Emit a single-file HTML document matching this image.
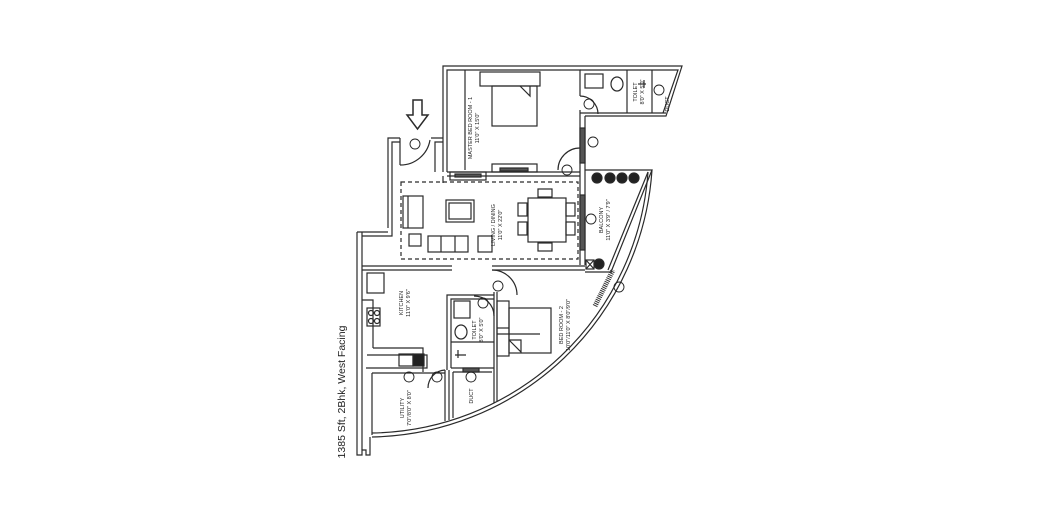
<!DOCTYPE html>
<html><head><meta charset="utf-8"><style>
html,body{margin:0;padding:0;background:#fff;}
svg{display:block;}
text{font-family:"Liberation Sans",sans-serif;fill:#222;}
</style></head><body>
<svg width="1044" height="510" viewBox="0 0 1044 510" xmlns="http://www.w3.org/2000/svg">
<g fill="none" stroke="#2a2a2a" stroke-width="1.2">
<path d="M443 172 V66 H682 L666 116 H585"/>
<path d="M447 172 V70 H580 V96"/>
<line x1="465" y1="70" x2="465" y2="170"/>
<path d="M580 70 H678 L663 113"/>
<line x1="627" y1="70" x2="627" y2="113"/>
<line x1="652" y1="70" x2="652" y2="113"/>
<line x1="580" y1="113" x2="666" y2="113"/>
<rect x="585" y="74" width="18" height="14"/>
<ellipse cx="617" cy="84" rx="6" ry="7"/>
<line x1="638" y1="84" x2="646" y2="84"/><line x1="644" y1="80" x2="644" y2="88"/>
<path d="M580 110 V265"/><path d="M585 116 V265"/>
<rect x="580" y="128" width="5" height="35" fill="#555"/>
<rect x="580" y="195" width="5" height="55" fill="#555"/>
<path d="M580 96 A18 18 0 0 1 598 114"/>
<path d="M580 148 A22 22 0 0 0 558 170"/>
<path d="M447 172 H580"/><path d="M443 176 V183 M486 176 H580 M447 176 H486"/>
<rect x="450" y="172" width="36" height="8"/>
<rect x="455" y="174" width="26" height="3" fill="#555"/>
<rect x="480" y="72" width="60" height="14"/>
<rect x="492" y="86" width="45" height="40"/>
<path d="M520 86 L530 96 V86"/>
<rect x="492" y="164" width="45" height="8"/>
<rect x="500" y="168" width="28" height="3" fill="#555"/>
<path d="M388 228 V138 H400 M431 138 H443 M443 142 H435 V172"/>
<path d="M392 228 V142 H400"/>
<line x1="400" y1="138" x2="400" y2="165"/>
<path d="M400 165 A30 30 0 0 0 430 140"/>
<path d="M413 100 H422 V115 H428 L417.5 129 L407 115 H413 Z" stroke-width="1.5"/>
<path d="M357 232 V455 H362 V450 H366 V455 H370 V437"/>
<path d="M362 232 V450"/>
<path d="M357 232 H388 M362 236 H392 V228"/>
<rect x="401" y="182" width="177" height="77" stroke-dasharray="4 3"/>
<rect x="403" y="196" width="20" height="32"/><line x1="408" y1="196" x2="408" y2="228"/>
<rect x="446" y="200" width="28" height="22"/><rect x="449" y="203" width="22" height="16"/>
<rect x="409" y="234" width="12" height="12"/>
<rect x="428" y="236" width="40" height="16"/><line x1="441" y1="236" x2="441" y2="252"/><line x1="455" y1="236" x2="455" y2="252"/>
<rect x="478" y="236" width="14" height="16"/>
<rect x="528" y="198" width="38" height="44"/>
<rect x="538" y="189" width="14" height="8"/><rect x="538" y="243" width="14" height="8"/>
<rect x="518" y="203" width="9" height="13"/><rect x="518" y="222" width="9" height="13"/>
<rect x="566" y="203" width="9" height="13"/><rect x="566" y="222" width="9" height="13"/>
<path d="M585 170 H652 L611 272"/><path d="M648 172 L608 270"/>
<path d="M585 272 H612"/>
<circle cx="597" cy="178" r="5" fill="#222"/><circle cx="610" cy="178" r="5" fill="#222"/><circle cx="622" cy="178" r="5" fill="#222"/><circle cx="634" cy="178" r="5" fill="#222"/>
<rect x="586" y="260" width="8" height="9"/><path d="M586 260 L594 269 M594 260 L586 269"/>
<circle cx="599" cy="264" r="5" fill="#222"/>
<path d="M362 266 H452 M362 270 H452 M492 266 H585 M492 270 H585"/>
<path d="M492 270 A25 25 0 0 1 517 295"/>
<path d="M372 437 A286 286 0 0 0 652 170"/>
<path d="M372 433 A281 281 0 0 0 648 172"/>
<path d="M595 306 L613 270" stroke-width="5" stroke="#333" stroke-dasharray="1 1"/>
<rect x="367" y="273" width="17" height="20"/>
<path d="M362 300 H373 V348"/>
<path d="M373 348 H423 V372"/><path d="M367 355 H427 V368 H366"/>
<rect x="367" y="308" width="13" height="18"/>
<circle cx="371" cy="313" r="2.5"/><circle cx="377" cy="313" r="2.5"/><circle cx="371" cy="321" r="2.5"/><circle cx="377" cy="321" r="2.5"/>
<rect x="399" y="354" width="14" height="12"/><rect x="413" y="354" width="11" height="12" fill="#222"/>
<path d="M372 373 H445 M372 373 V435"/>
<path d="M445 370 V421"/><path d="M449 370 V420"/>
<path d="M445 370 A18 18 0 0 0 428 388"/>
<path d="M447 370 V295 H494"/><path d="M451 368 V299 H494"/>
<path d="M451 368 H494"/>
<rect x="454" y="301" width="16" height="17"/>
<ellipse cx="461" cy="332" rx="6" ry="7"/>
<line x1="451" y1="342" x2="494" y2="342"/>
<path d="M458 350 V358 M455 355 H466"/>
<path d="M494 292 V403 M497 292 V401"/>
<path d="M494 316 A20 20 0 0 0 474 296"/>
<path d="M453 372 H492 M453 372 V418"/>
<rect x="463" y="368" width="16" height="4" fill="#555"/>
<rect x="497" y="301" width="12" height="55"/>
<line x1="497" y1="328" x2="509" y2="328"/>
<rect x="509" y="308" width="42" height="45"/>
<path d="M509 340 L521 352 V340 H509"/>
<line x1="497" y1="334" x2="540" y2="334"/>
</g>
<g font-size="6" fill="#222">
<g stroke="#222" stroke-width="0.9" fill="none">
<circle cx="415" cy="144" r="5"/><circle cx="589" cy="104" r="5"/><circle cx="593" cy="142" r="5"/><circle cx="567" cy="170" r="5"/><circle cx="591" cy="219" r="5"/><circle cx="498" cy="286" r="5"/><circle cx="483" cy="303" r="5"/><circle cx="619" cy="287" r="5"/><circle cx="409" cy="377" r="5"/><circle cx="437" cy="377" r="5"/><circle cx="471" cy="377" r="5"/><circle cx="659" cy="90" r="5"/>
</g>
<text transform="translate(472,128) rotate(-90)" text-anchor="middle" font-size="5.5">MASTER BED ROOM - 1</text>
<text transform="translate(479,128) rotate(-90)" text-anchor="middle" font-size="5.5">11'0" X 15'0"</text>
<text transform="translate(495,225) rotate(-90)" text-anchor="middle" font-size="5.5">LIVING / DINING</text>
<text transform="translate(502,225) rotate(-90)" text-anchor="middle" font-size="5.5">11'0" X 22'0"</text>
<text transform="translate(603,220) rotate(-90)" text-anchor="middle" font-size="5.5">BALCONY</text>
<text transform="translate(610,220) rotate(-90)" text-anchor="middle" font-size="5.5">11'0" X 3'9" / 7'9"</text>
<text transform="translate(637,92) rotate(-90)" text-anchor="middle" font-size="5.5">TOILET</text>
<text transform="translate(644,92) rotate(-90)" text-anchor="middle" font-size="5.5">8'0" X 5'0"</text>
<text transform="translate(669,104) rotate(-90)" text-anchor="middle" font-size="5.5">DUCT</text>
<text transform="translate(403,303) rotate(-90)" text-anchor="middle" font-size="5.5">KITCHEN</text>
<text transform="translate(410,303) rotate(-90)" text-anchor="middle" font-size="5.5">11'0" X 9'6"</text>
<text transform="translate(476,330) rotate(-90)" text-anchor="middle" font-size="5.5">TOILET</text>
<text transform="translate(483,330) rotate(-90)" text-anchor="middle" font-size="5.5">8'0" X 5'0"</text>
<text transform="translate(563,325) rotate(-90)" text-anchor="middle" font-size="5.5">BED ROOM - 2</text>
<text transform="translate(570,325) rotate(-90)" text-anchor="middle" font-size="5.5">10'0"/11'0" X 8'0"/9'0"</text>
<text transform="translate(404,408) rotate(-90)" text-anchor="middle" font-size="5.5">UTILITY</text>
<text transform="translate(411,408) rotate(-90)" text-anchor="middle" font-size="5.5">7'0"/8'0" X 8'0"</text>
<text transform="translate(473,396) rotate(-90)" text-anchor="middle" font-size="5.5">DUCT</text>
</g>
<text transform="translate(345,392) rotate(-90)" text-anchor="middle" font-size="10.5">1385 Sft, 2Bhk, West Facing</text>
</svg>
</body></html>
